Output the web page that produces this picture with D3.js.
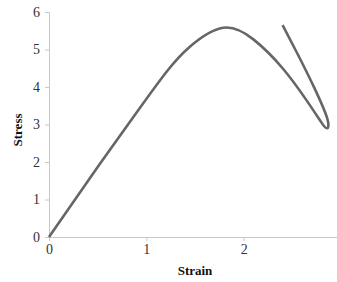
<!DOCTYPE html>
<html>
<head>
<meta charset="utf-8">
<script src="https://cdn.jsdelivr.net/npm/d3@7"></script>
<style>
  body { margin: 0; background: #fff; }
  svg { display: block; }
  .tick text { font-family: "Liberation Serif", "Times New Roman", serif; font-size: 14px; fill: #333; }
  .axis-title { font-family: "Liberation Serif", "Times New Roman", serif; font-size: 13px; font-weight: bold; fill: #111; }
</style>
</head>
<body>
<div id="chart"></div>
<script>
var svgWidth = 337;
var svgHeight = 282;

// strain / stress (curve loops back at the end)
var strain = [0, 0.45, 0.90, 1.20, 1.45, 1.79, 2.10, 2.40, 2.65, 2.80, 2.855, 2.86, 2.72, 2.55, 2.40];
var stress = [0, 1.68, 3.32, 4.38, 5.08, 5.58, 5.27, 4.50, 3.63, 3.05, 2.90, 3.15, 4.01, 4.90, 5.65];
var xTicks = [0, 1, 2, 3];
var yTicks = [0, 1, 2, 3, 4, 5, 6];

var data = strain.map(function(s, i) { return {strain: s, stress: stress[i]}; });

var svg = d3.select('#chart').append('svg')
  .attr('width', svgWidth)
  .attr('height', svgHeight);

var x = d3.scaleLinear().domain([0, 3]).range([49, 341]);
var y = d3.scaleLinear().domain([0, 6]).range([237, 12]);

// x axis
svg.append('g')
  .attr('transform', 'translate(0,237)')
  .call(d3.axisBottom(x).tickValues(xTicks).tickSize(4).tickPadding(3).tickFormat(d3.format('d')));

// y axis
svg.append('g')
  .attr('transform', 'translate(49,0)')
  .call(d3.axisLeft(y).tickValues(yTicks).tickSize(4).tickPadding(5).tickFormat(d3.format('d')));

svg.selectAll('.domain').attr('stroke', '#c8c8c8');
svg.selectAll('.tick line').attr('stroke', '#c8c8c8');

// the curve
var line = d3.line()
  .x(d => x(d.strain))
  .y(d => y(d.stress))
  .curve(d3.curveNatural);

svg.append('path')
  .datum(data)
  .attr('d', line)
  .attr('fill', 'none')
  .attr('stroke', '#666')
  .attr('stroke-width', 2.6);

// axis titles
svg.append('text')
  .attr('class', 'axis-title')
  .attr('x', 195)
  .attr('y', 275)
  .attr('text-anchor', 'middle')
  .text('Strain');

svg.append('text')
  .attr('class', 'axis-title')
  .attr('transform', 'translate(22,130) rotate(-90)')
  .attr('text-anchor', 'middle')
  .text('Stress');
</script>
</body>
</html>
